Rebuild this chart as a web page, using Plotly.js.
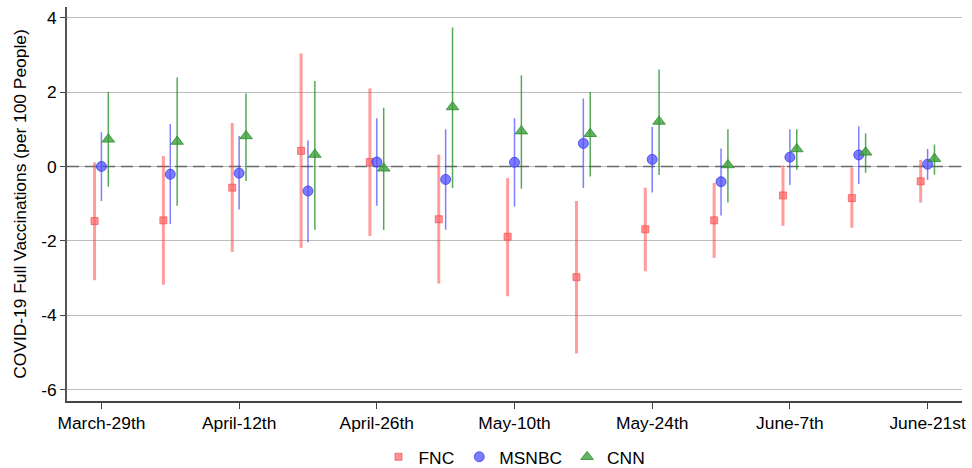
<!DOCTYPE html>
<html>
<head>
<meta charset="utf-8">
<script src="https://cdn.plot.ly/plotly-3.0.1.min.js"></script>
<style>html,body{margin:0;padding:0;background:#fff;}#chart{width:972px;height:468px;}</style>
</head>
<body>
<div id="chart"></div>
<script>
// Week index (0 = March-29th, weekly through June-21st)
const weeks = [0,1,2,3,4,5,6,7,8,9,10,11,12];
const tickWeeks = [0,2,4,6,8,10,12];
const tickLabels = ["March-29th","April-12th","April-26th","May-10th","May-24th","June-7th","June-21st"];
const yTicks = [-6,-4,-2,0,2,4];
const yTickLabels = ["-6","-4","-2","0","2","4"];

// FNC
const fncEst = [-1.47,-1.45,-0.57,0.42,0.12,-1.42,-1.89,-2.98,-1.69,-1.45,-0.78,-0.85,-0.40];
const fncHi  = [0.11,0.28,1.17,3.04,2.10,0.32,-0.31,-0.93,-0.57,-0.44,0.03,-0.03,0.18];
const fncLo  = [-3.06,-3.18,-2.30,-2.19,-1.87,-3.15,-3.49,-5.03,-2.82,-2.46,-1.60,-1.65,-0.97];
// MSNBC
const msnEst = [0.00,-0.21,-0.18,-0.66,0.12,-0.35,0.11,0.62,0.19,-0.41,0.25,0.31,0.06];
const msnHi  = [0.92,1.14,0.82,0.70,1.30,1.00,1.30,1.83,1.06,0.48,1.00,1.08,0.47];
const msnLo  = [-0.93,-1.55,-1.16,-2.04,-1.06,-1.70,-1.08,-0.58,-0.70,-1.32,-0.50,-0.47,-0.36];
// CNN
const cnnEst = [0.73,0.67,0.82,0.32,-0.05,1.60,0.95,0.88,1.21,0.04,0.47,0.38,0.21];
const cnnHi  = [2.00,2.39,1.96,2.30,1.58,3.74,2.45,2.00,2.61,1.00,1.00,0.89,0.59];
const cnnLo  = [-0.54,-1.06,-0.39,-1.70,-1.71,-0.58,-0.60,-0.27,-0.23,-0.97,-0.09,-0.17,-0.22];

const xRange = [-0.5, 12.5];
const off = 0.1;
function mk(name, shift, est, hi, lo, marker, errColor, errWidth) {
  return {
    type: 'scatter', mode: 'markers', name: name,
    x: weeks.map(w => w + shift), y: est,
    marker: marker,
    error_y: {
      type: 'data', symmetric: false,
      array: hi.map((h, i) => h - est[i]),
      arrayminus: lo.map((l, i) => est[i] - l),
      color: errColor, thickness: errWidth, width: 0
    },
    hoverinfo: 'x+y'
  };
}

const zeroRef = {
  type: 'scatter', mode: 'lines', x: xRange, y: [0, 0], showlegend: false, hoverinfo: 'skip',
  line: {color: '#6a6a6a', width: 1.6, dash: '12px,6px'}, cliponaxis: true
};

const traces = [
  zeroRef,
  mk('FNC', -off, fncEst, fncHi, fncLo,
     {symbol: 'square', size: 7, color: 'rgba(255,100,100,0.7)', line: {color: 'rgba(240,80,80,0.7)', width: 1}},
     'rgba(255,60,60,0.5)', 3),
  mk('MSNBC', 0, msnEst, msnHi, msnLo,
     {symbol: 'circle', size: 10, color: 'rgba(80,80,255,0.75)', line: {color: 'rgba(50,50,230,0.7)', width: 1}},
     'rgba(40,40,255,0.6)', 1.5),
  mk('CNN', off, cnnEst, cnnHi, cnnLo,
     {symbol: 'triangle-up', size: 11, color: 'rgba(60,160,60,0.8)', line: {color: 'rgba(30,130,30,0.7)', width: 1}},
     'rgba(30,140,30,0.75)', 1.5)
];

const FS = 17.4;
const layout = {
  width: 972, height: 468,
  margin: {l: 67, r: 10, t: 7, b: 67, autoexpand: false},
  paper_bgcolor: '#fff', plot_bgcolor: '#fff',
  font: {family: '"Liberation Sans", Arial, Helvetica, sans-serif', size: FS, color: '#000'},
  showlegend: true,
  legend: {orientation: 'h', x: 0.5, xanchor: 'center', y: -0.142, yanchor: 'middle', font: {size: FS}},
  xaxis: {
    range: xRange, tickvals: tickWeeks, ticktext: tickLabels,
    showgrid: false, zeroline: false, showline: true, linecolor: '#444', linewidth: 1.6,
    ticks: 'outside', ticklen: 6, tickcolor: '#444', tickwidth: 1.2,
    tickfont: {size: FS}, automargin: false
  },
  yaxis: {
    range: [-6.31, 4.29], tickvals: yTicks, ticktext: yTickLabels,
    showgrid: true, gridcolor: '#bdbdbd', gridwidth: 1.2, zeroline: false,
    showline: true, linecolor: '#555', linewidth: 1.8,
    ticks: 'outside', ticklen: 5, tickcolor: '#444', tickwidth: 1.2,
    tickfont: {size: FS}, automargin: false,
    title: {text: 'COVID-19 Full Vaccinations (per 100 People)', font: {size: FS}, standoff: 10}
  }
};

Plotly.newPlot('chart', traces, layout, {displayModeBar: false, staticPlot: true});
</script>
</body>
</html>
